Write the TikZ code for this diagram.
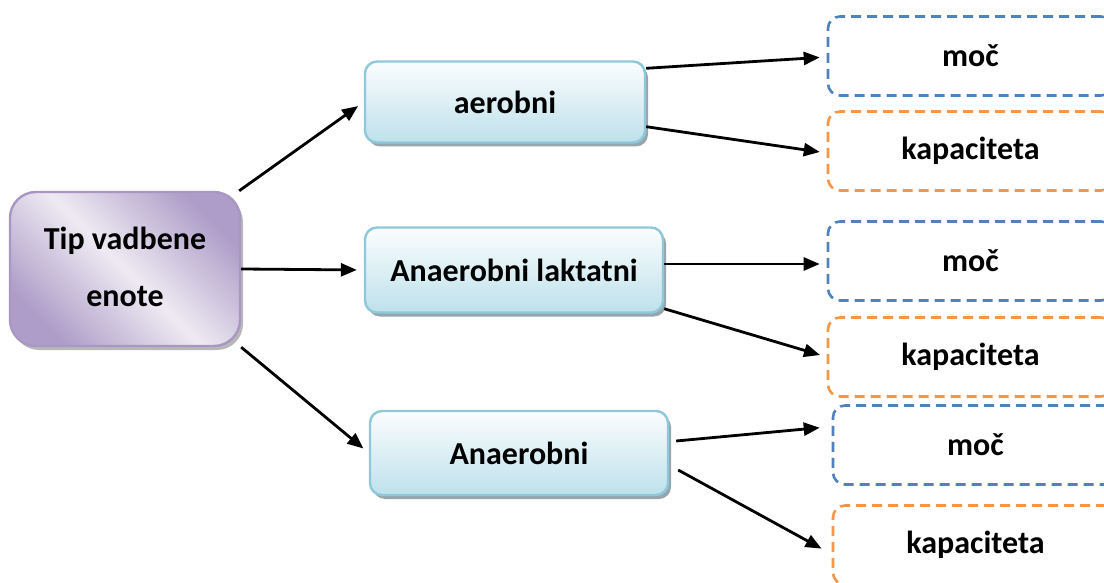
\documentclass[tikz,border=0pt]{standalone}
\usepackage{fontspec}
\setmainfont{Carlito}
\usetikzlibrary{arrows.meta,shadows}
\definecolor{purpA}{HTML}{AE9DC8}
\definecolor{purpB}{HTML}{EEEAF3}
\definecolor{purpE}{HTML}{A897C2}
\definecolor{blueT}{HTML}{FBFDFE}
\definecolor{blueB}{HTML}{BEE1EB}
\definecolor{blueE}{HTML}{8DC9DB}
\definecolor{dashB}{HTML}{4F81BD}
\definecolor{dashO}{HTML}{F79646}
\definecolor{shad}{HTML}{8C9BA3}
\tikzset{
  lbl/.style={font=\fontsize{32}{47}\selectfont\bfseries, text=black},
  tipbox/.style={lbl, rectangle, rounded corners=26pt, draw=purpE, line width=2.4pt,
    left color=purpA, right color=purpA, middle color=purpB, shading angle=-45,
    minimum width=230pt, minimum height=154pt, align=center,
    drop shadow={shadow xshift=3pt, shadow yshift=-4pt, fill=gray!70, opacity=0.8}},
  midbox/.style={lbl, rectangle, rounded corners=12pt, draw=blueE, line width=2.4pt,
    top color=blueT, bottom color=blueB,
    drop shadow={shadow xshift=3pt, shadow yshift=-4pt, fill=shad, opacity=0.9}},
  dbox/.style={lbl, rectangle, rounded corners=12pt, line width=2.6pt,
    dash pattern=on 10pt off 6pt, minimum width=285pt, minimum height=79pt},
  bdash/.style={dbox, draw=dashB},
  odash/.style={dbox, draw=dashO},
  arr/.style={-{Triangle[length=16pt,width=13pt]}, line width=2.8pt, shorten >=7pt},
}
\begin{document}
\begin{tikzpicture}[x=1pt,y=-1pt]
\useasboundingbox (0,0) rectangle (1104,583);
\clip (0,0) rectangle (1104,583);
\node[tipbox] (tip) at (125,269) {\raisebox{9pt}{\begin{tabular}{@{}c@{}}Tip vadbene\\[10pt]enote\end{tabular}}};
\node[midbox, minimum width=280pt, minimum height=81pt] (aer) at (505,102) {aerobni};
\node[midbox, minimum width=298pt, minimum height=85pt] (lak) at (514,270) {Anaerobni laktatni};
\node[midbox, minimum width=298pt, minimum height=84pt] (ana) at (519,453) {Anaerobni};
\node[bdash] (m1) at (970.5,56) {moč};
\node[odash] (k1) at (970.5,151) {kapaciteta};
\node[bdash] (m2) at (970.5,261) {moč};
\node[odash] (k2) at (970.5,357) {kapaciteta};
\node[bdash] (m3) at (975.5,445) {moč};
\node[odash] (k3) at (975.5,545) {kapaciteta};
\draw[arr] ([xshift=-2pt]tip.north east) -- (aer.west);
\draw[arr] (tip.east) -- (lak.west);
\draw[arr] (tip.south east) -- (ana.west);
\draw[arr] ([yshift=-8pt]aer.north east) -- ([yshift=-1pt]m1.west);
\draw[arr] ([yshift=17pt]aer.south east) -- ([yshift=-2pt]k1.west);
\draw[arr] ([yshift=6pt]lak.east) -- ([yshift=-3pt]m2.west);
\draw[arr] ([yshift=5pt]lak.south east) -- (k2.west);
\draw[arr] ([xshift=7pt,yshift=12pt]ana.east) -- ([yshift=18pt,xshift=-5pt]m3.west);
\draw[arr] ([xshift=9pt,yshift=-17pt]ana.east) -- ([yshift=-7pt,xshift=-4pt]k3.west);
\end{tikzpicture}
\end{document}
